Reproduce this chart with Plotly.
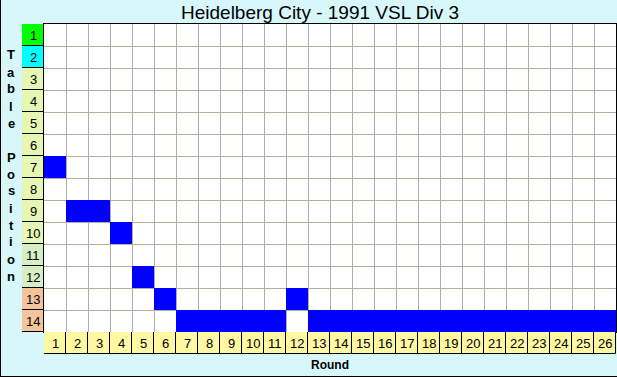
import plotly.graph_objects as go

W, H = 617, 377

title = "Heidelberg City - 1991 VSL Div 3"
rounds = list(range(1, 27))
positions = [7, 9, 9, 10, 12, 13, 14, 14, 14, 14, 14, 13, 14, 14, 14, 14, 14, 14, 14, 14, 14, 14, 14, 14, 14, 14]
table_rows = list(range(1, 15))
row_colors = ["#00FF00", "#00FFFF"] + ["#E6F7B3"] * 8 + ["#D6F0C3"] * 2 + ["#F5C49B"] * 2
y_label = "Table Position"
x_label = "Round"

BG = "#D8F7FB"
FONT = "Arial, Liberation Sans, sans-serif"

def px_x(p):
    return p / W

def px_y(p):
    return 1 - p / H

fig = go.Figure()

# main grid: position bars
fig.add_trace(go.Bar(
    x=rounds, y=[1] * len(rounds), base=[p - 0.5 for p in positions],
    width=1, marker=dict(color="#0000FF", line=dict(width=0)),
    xaxis="x", yaxis="y", hoverinfo="skip", showlegend=False))

# row label cells
fig.add_trace(go.Bar(
    x=[0] * len(table_rows), y=[1] * len(table_rows), base=[r - 0.5 for r in table_rows],
    width=1, marker=dict(color=row_colors, line=dict(width=1, color="black")),
    xaxis="x2", yaxis="y", hoverinfo="skip", showlegend=False))

# column label cells
fig.add_trace(go.Bar(
    x=rounds, y=[1] * len(rounds), base=[-0.5] * len(rounds),
    width=1, marker=dict(color="#FFF8A2", line=dict(width=1, color="black")),
    xaxis="x", yaxis="y2", hoverinfo="skip", showlegend=False))

annotations = []
for r in table_rows:
    annotations.append(dict(x=0, y=r, xref="x2", yref="y", text=str(r), showarrow=False,
                            font=dict(family=FONT, size=13, color="black")))
for c in rounds:
    annotations.append(dict(x=c, y=0, xref="x", yref="y2", text=str(c), showarrow=False,
                            font=dict(family=FONT, size=13, color="black")))

annotations.append(dict(x=px_x(320), y=px_y(13), xref="paper", yref="paper", text=title,
                        showarrow=False, xanchor="center", yanchor="middle",
                        font=dict(family=FONT, size=19, color="black")))
annotations.append(dict(x=px_x(330), y=px_y(365), xref="paper", yref="paper", text="<b>" + x_label + "</b>",
                        showarrow=False, xanchor="center", yanchor="middle",
                        font=dict(family=FONT, size=12, color="black")))
for i, ch in enumerate(y_label):
    if ch == " ":
        continue
    annotations.append(dict(x=px_x(11), y=px_y(55 + i * 17.0), xref="paper", yref="paper",
                            text="<b>" + ch + "</b>", showarrow=False, xanchor="center", yanchor="middle",
                            font=dict(family=FONT, size=13, color="black")))

GX0, GX1 = 44, 616
GY0, GY1 = 24, 332

fig.update_layout(
    width=W, height=H, margin=dict(l=0, r=0, t=0, b=0),
    paper_bgcolor=BG, plot_bgcolor="white", barmode="overlay", bargap=0,
    annotations=annotations,
    xaxis=dict(domain=[px_x(GX0), px_x(GX1)], range=[0.5, 26.5], showticklabels=False,
               tick0=0.5, dtick=1, showgrid=True, gridcolor="#B5AD9E", gridwidth=1,
               zeroline=False, showline=True, linecolor="black", linewidth=1, mirror=True,
               ticks="", fixedrange=True),
    yaxis=dict(domain=[px_y(GY1), px_y(GY0)], range=[14.5, 0.5], showticklabels=False,
               tick0=0.5, dtick=1, showgrid=True, gridcolor="#B5AD9E", gridwidth=1,
               zeroline=False, showline=True, linecolor="black", linewidth=1, mirror=True,
               ticks="", fixedrange=True),
    xaxis2=dict(domain=[px_x(22), px_x(GX0)], range=[-0.5, 0.5], showticklabels=False,
                showgrid=False, zeroline=False, anchor="y", fixedrange=True),
    yaxis2=dict(domain=[px_y(354), px_y(GY1)], range=[0.5, -0.5], showticklabels=False,
                showgrid=False, zeroline=False, anchor="x", fixedrange=True),
    shapes=[
        dict(type="line", xref="paper", yref="paper", x0=px_x(0.5), x1=px_x(0.5), y0=0, y1=1,
             line=dict(color="black", width=1)),
        dict(type="line", xref="paper", yref="paper", x0=0, x1=1, y0=px_y(376.5), y1=px_y(376.5),
             line=dict(color="black", width=1)),
    ],
)

fig.write_html("out.html", config={"displayModeBar": False},
               post_script="document.body.style.margin='0';document.body.style.overflow='hidden';")
